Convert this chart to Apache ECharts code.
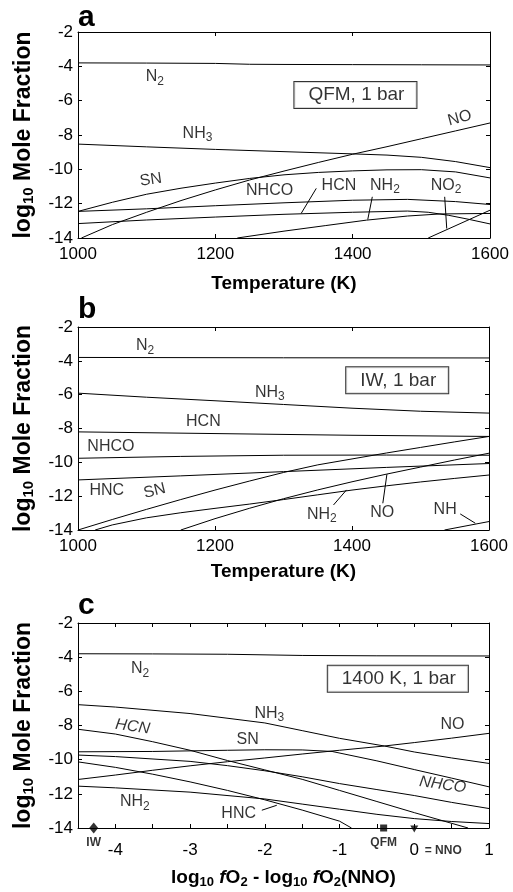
<!DOCTYPE html>
<html>
<head>
<meta charset="utf-8">
<title>Nitrogen species speciation</title>
<script src="https://cdn.jsdelivr.net/npm/echarts@6/dist/echarts.min.js"></script>
<style>html,body{margin:0;padding:0;background:#fff;}</style>
</head>
<body>
<div id="main" style="width:513px;height:892px;"></div>
<script>
// ---- panel a : QFM, 1 bar  (x = temperature K, y = log10 mole fraction)
const qfmN2   = [[1000,-3.8],[1100,-3.81],[1200,-3.83],[1250,-3.88],[1300,-3.89],[1400,-3.9],[1500,-3.91],[1600,-3.92]];
const qfmNH3  = [[1000,-8.53],[1100,-8.69],[1200,-8.84],[1300,-8.97],[1400,-9.1],[1450,-9.17],[1500,-9.3],[1550,-9.55],[1600,-9.9]];
const qfmNO   = [[1005,-14],[1050,-13.22],[1100,-12.5],[1150,-11.82],[1200,-11.2],[1250,-10.62],[1300,-10.1],[1350,-9.6],[1400,-9.12],[1450,-8.68],[1500,-8.22],[1550,-7.76],[1600,-7.3]];
const qfmSN   = [[1000,-12.45],[1050,-11.92],[1100,-11.45],[1150,-11.1],[1200,-10.8],[1250,-10.53],[1300,-10.32],[1350,-10.18],[1400,-10.09],[1450,-10.03],[1500,-10.02],[1550,-10.15],[1600,-10.5]];
const qfmNHCO = [[1000,-12.45],[1100,-12.3],[1200,-12.12],[1300,-11.95],[1400,-11.8],[1480,-11.75],[1550,-11.88],[1600,-12.05]];
const qfmHCN  = [[1000,-13.16],[1100,-12.95],[1200,-12.78],[1300,-12.62],[1400,-12.5],[1480,-12.43],[1510,-12.5],[1540,-12.68],[1570,-12.92],[1600,-13.18]];
const qfmNH2  = [[1232,-14],[1300,-13.6],[1360,-13.28],[1420,-12.96],[1480,-12.72],[1527,-12.6],[1600,-12.57]];
const qfmNO2  = [[1510,-14],[1600,-12.38]];

// ---- panel b : IW, 1 bar
const iwN2   = [[1000,-3.8],[1300,-3.82],[1600,-3.83]];
const iwNH3  = [[1000,-5.91],[1100,-6.15],[1200,-6.36],[1300,-6.58],[1400,-6.8],[1500,-6.98],[1600,-7.09]];
const iwHCN  = [[1000,-8.2],[1200,-8.3],[1400,-8.4],[1600,-8.47]];
const iwNHCO = [[1000,-9.76],[1150,-9.65],[1300,-9.58],[1450,-9.57],[1600,-9.58]];
const iwHNC  = [[1000,-11.04],[1150,-10.8],[1300,-10.55],[1450,-10.3],[1600,-10.07]];
const iwSN   = [[1000,-14],[1050,-13.38],[1100,-12.78],[1150,-12.2],[1200,-11.64],[1250,-11.11],[1300,-10.6],[1350,-10.15],[1400,-9.8],[1450,-9.45],[1500,-9.12],[1550,-8.79],[1600,-8.47]];
const iwNO   = [[1150,-14],[1200,-13.33],[1250,-12.72],[1300,-12.15],[1350,-11.63],[1400,-11.15],[1450,-10.7],[1500,-10.28],[1550,-9.86],[1600,-9.46]];
const iwNH2  = [[1025,-14],[1050,-13.7],[1100,-13.28],[1150,-12.98],[1200,-12.72],[1250,-12.47],[1300,-12.2],[1350,-11.92],[1400,-11.64],[1450,-11.39],[1500,-11.16],[1550,-10.95],[1600,-10.75]];
const iwNH   = [[1535,-14],[1600,-13.5]];

// ---- panel c : 1400 K, 1 bar  (x = log fO2 - log fO2(NNO))
const fo2N2   = [[-4.5,-3.8],[-3.5,-3.81],[-2.5,-3.83],[-1.5,-3.9],[-0.5,-3.92],[1,-3.93]];
const fo2NH3  = [[-4.5,-6.78],[-4,-6.92],[-3,-7.3],[-2,-7.85],[-1.5,-8.3],[-1,-8.75],[-0.4,-9.2],[0,-9.55],[0.5,-9.9],[1,-10.22]];
const fo2HCN  = [[-4.5,-8.22],[-4,-8.5],[-3.5,-8.95],[-3,-9.45],[-2.5,-10.05],[-2,-10.6],[-1.5,-11.15],[-1,-11.8],[-0.5,-12.45],[0,-13.1],[0.72,-14]];
const fo2SN   = [[-4.5,-9.54],[-3.5,-9.52],[-2.5,-9.45],[-2,-9.42],[-1.5,-9.43],[-1.1,-9.52],[-0.5,-10.07],[0,-10.58],[0.5,-11.08],[1,-11.59]];
const fo2NO   = [[-4.5,-11.16],[-4,-10.9],[-3.5,-10.62],[-3,-10.36],[-2.5,-10.12],[-2,-9.9],[-1.5,-9.67],[-1,-9.45],[-0.4,-9.2],[0,-9.0],[0.5,-8.74],[1,-8.46]];
const fo2NHCO = [[-4.5,-9.73],[-4,-9.82],[-3,-10.1],[-2.5,-10.35],[-2,-10.65],[-1.5,-11.0],[-1,-11.4],[-0.5,-11.75],[0,-12.1],[0.5,-12.5],[1,-12.86]];
const fo2HNC  = [[-4.5,-10.13],[-4,-10.45],[-3.5,-10.85],[-3,-11.3],[-2.5,-11.8],[-2,-12.35],[-1.5,-12.95],[-1,-13.6],[-0.84,-14]];
const fo2NH2  = [[-4.5,-11.55],[-4,-11.65],[-3,-11.9],[-2,-12.3],[-1.5,-12.6],[-1,-12.9],[-0.5,-13.2],[0,-13.45],[0.5,-13.62],[1,-13.74]];

// buffer markers on the fO2 axis
const bufferNames = ['IW', 'QFM', 'NNO'];
const bufferX = [-4.29, -0.41, 0];

// curve labels: [x, y, text, rotate, italic]
const labelsA = [
  [1112,-4.61,'N{s|2}',0], [1174,-7.92,'NH{s|3}',0], [1106,-10.61,'SN',8],
  [1279,-11.21,'NHCO',0], [1380,-10.92,'HCN',0], [1447,-10.92,'NH{s|2}',0],
  [1536,-10.92,'NO{s|2}',0], [1556,-7.02,'NO',15]
];
const labelsB = [
  [1098,-3.12,'N{s|2}',0], [1280,-5.86,'NH{s|3}',0], [1183,-7.59,'HCN',0],
  [1048,-9.07,'NHCO',0], [1042,-11.68,'HNC',0], [1112,-11.69,'SN',14],
  [1356,-13.08,'NH{s|2}',0], [1444,-12.95,'NO',0], [1536,-12.77,'NH',0]
];
const labelsC = [
  [-3.67,-4.69,'N{s|2}',0], [-1.94,-7.28,'NH{s|3}',0], [-3.77,-8.07,'HCN',-8,true],
  [-2.23,-8.85,'SN',0], [0.51,-7.97,'NO',0], [0.38,-11.47,'NHCO',-8,true],
  [-3.74,-12.48,'NH{s|2}',0], [-2.35,-13.16,'HNC',0]
];
const leadersA = [[[1325,-12.57],[1347,-11.11]], [[1422,-12.92],[1428.6,-11.6]], [[1537,-13.45],[1534,-11.6]]];
const leadersB = [[[1373,-12.52],[1392,-11.63]], [[1445,-12.42],[1451,-10.7]], [[1558,-13.05],[1580,-13.6]]];
const leadersC = [[[-2.04,-12.96],[-1.84,-12.67]]];

const boxes = [[1404,-5.67,'QFM, 1 bar'], [1466,-5.15,'IW, 1 bar'], [-0.22,-5.27,'1400 K, 1 bar']];

const FONT = '"Liberation Sans", Arial, Helvetica, sans-serif';
const subRich = { s: { fontSize: 12, fontFamily: FONT, color: '#000', padding: [9, 0, 0, 0] } };

const grids = [
  { left: 78, right: 23, top: 32, height: 206 },
  { left: 78, right: 24, top: 327, height: 203 },
  { left: 78, right: 24, top: 623, height: 205 }
];

const xAxes = [], yAxes = [];
const xCfg = [
  { min: 1000, max: 1600, interval: 200, name: 'Temperature (K)', gap: 36, margin: 8 },
  { min: 1000, max: 1600, interval: 200, name: 'Temperature (K)', gap: 32, margin: 8 },
  { min: -4.5, max: 1, interval: 0.5, name: 'log{s|10} {i|f}O{s|2} - log{s|10} {i|f}O{s|2}(NNO)', gap: 39, margin: 14 }
];
xCfg.forEach((c, gi) => {
  const common = {
    type: 'value', gridIndex: gi, min: c.min, max: c.max, interval: c.interval,
    axisLine: { show: true, onZero: false, lineStyle: { color: '#000', width: 1 } },
    axisTick: { show: true, inside: true, length: 4, lineStyle: { color: '#000' } },
    splitLine: { show: false }
  };
  xAxes.push(Object.assign({}, common, {
    position: 'bottom',
    name: c.name, nameLocation: 'middle', nameGap: c.gap,
    nameTextStyle: {
      fontFamily: FONT, fontSize: 19, fontWeight: 'bold', color: '#000',
      rich: {
        s: { fontFamily: FONT, fontSize: 13, fontWeight: 'bold', color: '#000', padding: [9, 0, 0, 0] },
        i: { fontFamily: FONT, fontSize: 19, fontWeight: 'bold', fontStyle: 'italic', color: '#000' }
      }
    },
    axisLabel: {
      fontFamily: FONT, fontSize: 17, color: '#000', margin: c.margin,
      formatter: v => (gi === 2 && !Number.isInteger(v)) ? '' : String(v)
    }
  }));
  xAxes.push(Object.assign({}, common, { position: 'top', axisLabel: { show: false } }));
});
grids.forEach((g, gi) => {
  const common = {
    type: 'value', gridIndex: gi, min: -14, max: -2, interval: 2,
    axisLine: { show: true, onZero: false, lineStyle: { color: '#000', width: 1 } },
    axisTick: { show: true, inside: true, length: 4, lineStyle: { color: '#000' } },
    splitLine: { show: false }
  };
  yAxes.push(Object.assign({}, common, {
    position: 'left',
    name: 'log{s|10} Mole Fraction', nameLocation: 'middle', nameGap: 42, nameRotate: 90,
    nameTextStyle: {
      fontFamily: FONT, fontSize: 23, fontWeight: 'bold', color: '#000',
      rich: { s: { fontFamily: FONT, fontSize: 15, fontWeight: 'bold', color: '#000', padding: [10, 0, 0, 0] } }
    },
    axisLabel: { fontFamily: FONT, fontSize: 17, color: '#000', margin: 5 }
  }));
  yAxes.push(Object.assign({}, common, { position: 'right', axisLabel: { show: false } }));
});

const series = [];
function addCurves(gi, list) {
  list.forEach(d => series.push({
    type: 'line', xAxisIndex: gi * 2, yAxisIndex: gi * 2, data: d,
    showSymbol: false, smooth: false, silent: true,
    lineStyle: { color: '#000', width: 1 }, z: 2
  }));
}
addCurves(0, [qfmN2, qfmNH3, qfmNO, qfmSN, qfmNHCO, qfmHCN, qfmNH2, qfmNO2]);
addCurves(1, [iwN2, iwNH3, iwHCN, iwNHCO, iwHNC, iwSN, iwNO, iwNH2, iwNH]);
addCurves(2, [fo2N2, fo2NH3, fo2HCN, fo2SN, fo2NO, fo2NHCO, fo2HNC, fo2NH2]);

[leadersA, leadersB, leadersC].forEach((ls, gi) => ls.forEach(d => series.push({
  type: 'line', xAxisIndex: gi * 2, yAxisIndex: gi * 2, data: d,
  showSymbol: false, silent: true, lineStyle: { color: '#000', width: 1 }, z: 3
})));

[labelsA, labelsB, labelsC].forEach((ls, gi) => series.push({
  type: 'scatter', xAxisIndex: gi * 2, yAxisIndex: gi * 2, symbolSize: 0, silent: true, z: 5,
  data: ls.map(l => ({
    value: [l[0], l[1]], name: l[2],
    label: { rotate: l[3], fontStyle: l[4] ? 'italic' : 'normal' }
  })),
  label: {
    show: true, position: 'inside', formatter: '{b}',
    fontFamily: FONT, fontSize: 16, color: '#000', rich: subRich
  }
}));

boxes.forEach((b, gi) => series.push({
  type: 'scatter', xAxisIndex: gi * 2, yAxisIndex: gi * 2, symbolSize: 0, silent: true, z: 6,
  data: [{ value: [b[0], b[1]], name: b[2] }],
  label: {
    show: true, position: 'inside', formatter: '{b}',
    fontFamily: FONT, fontSize: 19, color: '#000',
    backgroundColor: '#fff', borderColor: '#000', borderWidth: 1, padding: [4, 12, 3, 14]
  }
}));

// buffer markers: diamond IW, square QFM, down-triangle NNO
series.push({
  type: 'scatter', xAxisIndex: 4, yAxisIndex: 4, silent: true, clip: false, z: 7,
  itemStyle: { color: '#000' },
  data: [
    { value: [bufferX[0], -14], symbol: 'diamond', symbolSize: [9, 11],
      label: { formatter: bufferNames[0], offset: [0, 15] } },
    { value: [bufferX[1], -14], symbol: 'rect', symbolSize: [7, 7],
      label: { formatter: bufferNames[1], offset: [0, 15] } },
    { value: [bufferX[2], -14], symbol: 'triangle', symbolRotate: 180, symbolSize: [8, 7], symbolOffset: [0, 1],
      label: { formatter: '= ' + bufferNames[2], offset: [29, 22] } }
  ],
  label: { show: true, position: 'inside', fontFamily: FONT, fontSize: 12, fontWeight: 'bold', color: '#000' }
});

const option = {
  animation: false,
  backgroundColor: '#fff',
  title: [
    { text: 'a', left: 78, top: 3 },
    { text: 'b', left: 78, top: 295 },
    { text: 'c', left: 78, top: 591 }
  ].map(t => Object.assign(t, { padding: 0, textStyle: { fontFamily: FONT, fontSize: 30, fontWeight: 'bold', color: '#000' } })),
  grid: grids,
  xAxis: xAxes,
  yAxis: yAxes,
  series: series
};

const chart = echarts.init(document.getElementById('main'));
chart.setOption(option);
</script>
</body>
</html>
